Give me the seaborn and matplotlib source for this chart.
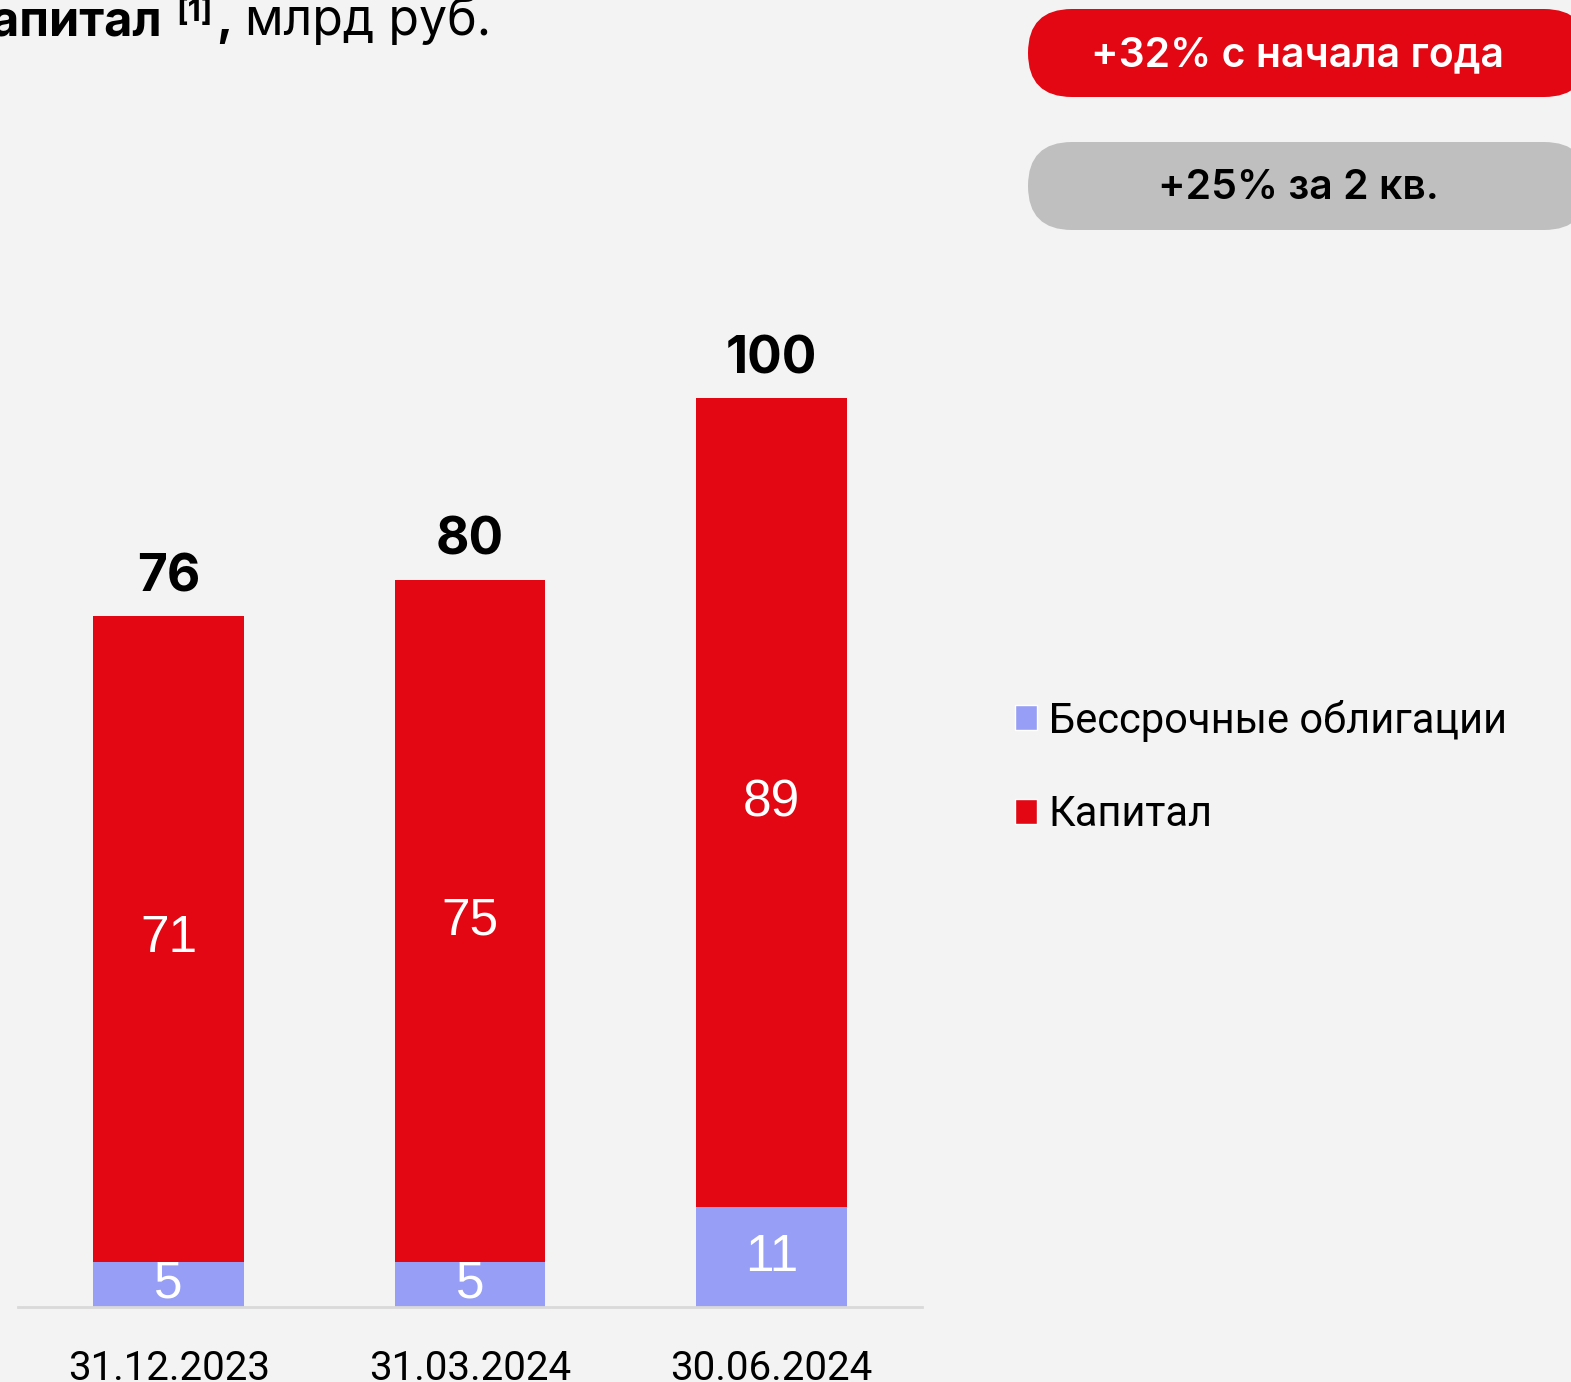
import matplotlib
matplotlib.use("Agg")
import matplotlib.pyplot as plt
from matplotlib.patches import FancyBboxPatch, Patch
import pandas as pd
import seaborn as sns

# data
dates = ["31.12.2023", "31.03.2024", "30.06.2024"]
bonds = [5, 5, 11]
capital = [71, 75, 89]
totals = [76, 80, 100]
badges = ["+32% с начала года", "+25% за 2 кв."]

BG = "#f3f3f3"
RED = "#e30613"
BLUE = "#979ef5"
GREY = "#bfbfbf"
BOLD = ["Inter", "DejaVu Sans"]

sns.set_theme(style="white")
plt.rcParams["font.family"] = ["Roboto", "DejaVu Sans"]
plt.rcParams["text.color"] = "black"
plt.rcParams["xtick.color"] = "black"

df = pd.DataFrame({"date": dates, "bonds": bonds, "capital": capital, "total": totals})

W, H = 1571, 1382
fig = plt.figure(figsize=(W / 100, H / 100), dpi=100, facecolor=BG)
ax = fig.add_axes([18 / W, (H - 1307) / H, 904 / W, 1307 / H])
ax.set_facecolor(BG)

sns.barplot(data=df, x="date", y="bonds", color=BLUE, width=0.5, saturation=1,
            linewidth=0, ax=ax)
sns.barplot(data=df, x="date", y="capital", bottom=df["bonds"], color=RED, width=0.5,
            saturation=1, linewidth=0, ax=ax)

ax.set_xlim(-0.5, 2.5)
ax.set_ylim(0, 1307 / 9.09)
ax.set_xlabel("")
ax.set_ylabel("")
ax.set_yticks([])
for side in ["top", "left", "right"]:
    ax.spines[side].set_visible(False)
ax.spines["bottom"].set_color("#d9d9d9")
ax.spines["bottom"].set_linewidth(2)
ax.tick_params(axis="x", length=0, pad=30, labelsize=29, labelcolor="black")

for i, row in df.iterrows():
    ax.text(i, row["bonds"] / 2, f"{row['bonds']}", ha="center", va="center",
            color="white", fontsize=37, family=["Liberation Sans", "DejaVu Sans"])
    ax.text(i, row["bonds"] + row["capital"] / 2, f"{row['capital']}", ha="center",
            va="center", color="white", fontsize=37, family=["Liberation Sans", "DejaVu Sans"])
    ax.annotate(f"{row['total']}", (i, row["total"]), xytext=(0, 18),
                textcoords="offset points", ha="center", va="baseline",
                fontsize=37, fontweight="bold", family=BOLD, color="black")

handles = [Patch(facecolor=BLUE, label="Бессрочные облигации"),
           Patch(facecolor=RED, label="Капитал")]
fig.legend(handles=handles, loc="upper left", bbox_to_anchor=(977 / W, 1 - 662 / H),
           frameon=False, fontsize=30, handlelength=0.55, handleheight=0.55,
           handletextpad=0.27, labelspacing=1.27)

# overlay in pixel coordinates for title and badges
ov = fig.add_axes([0, 0, 1, 1], facecolor="none")
ov.set_xlim(0, W)
ov.set_ylim(H, 0)
ov.axis("off")

ov.text(162, 35, "Капитал", ha="right", va="baseline", fontsize=35, fontweight="bold",
        family=BOLD)
ov.text(176, 21, "[1]", ha="left", va="baseline", fontsize=22, fontweight="bold",
        family=BOLD)
ov.text(216, 35, ",", ha="left", va="baseline", fontsize=35, fontweight="bold",
        family=BOLD)
ov.text(245, 35, "млрд руб.", ha="left", va="baseline", fontsize=36, family=BOLD)

pill_specs = [(9, RED, "white"), (142, GREY, "black")]
for (top, fc, tc), label in zip(pill_specs, badges):
    ov.add_patch(FancyBboxPatch((1028, top), 560, 88,
                                boxstyle="round,pad=0,rounding_size=44",
                                facecolor=fc, edgecolor="none"))
    ov.text(1298, top + 46, label, ha="center", va="center", color=tc, fontsize=29.5,
            fontweight="semibold", family=BOLD)

fig.savefig("out.png", dpi=100, facecolor=BG)
